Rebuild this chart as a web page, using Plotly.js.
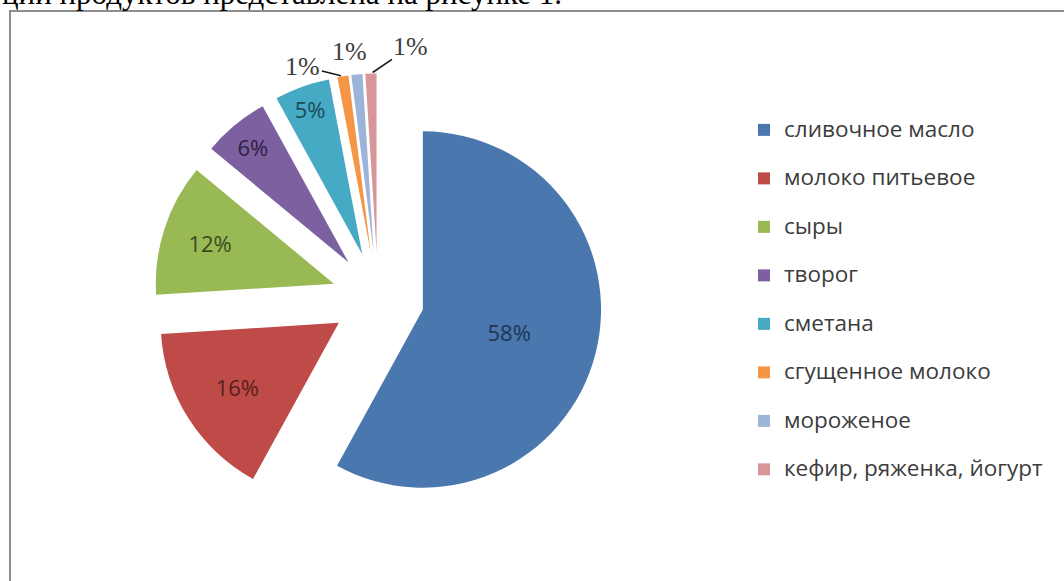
<!DOCTYPE html>
<html>
<head>
<meta charset="utf-8">
<script src="https://cdn.plot.ly/plotly-3.0.1.min.js"></script>
<style>
  html, body { margin: 0; padding: 0; background: #ffffff; }
  #chart { width: 1064px; height: 581px; }
</style>
</head>
<body>
<div id="chart"></div>
<script>
// ---- data ----
const categories = [
  "сливочное масло",
  "молоко питьевое",
  "сыры",
  "творог",
  "сметана",
  "сгущенное молоко",
  "мороженое",
  "кефир, ряженка, йогурт"
];
const shares = [58, 16, 12, 6, 5, 1, 1, 1];
const sliceColors = ["#4A78AE", "#BE4B48", "#98B954", "#7D60A0", "#46AAC5", "#F59646", "#9DB4DA", "#D9969A"];
const labelColors = ["#1E3557", "#5A1D1C", "#3A4A1E", "#2F2142", "#1C4A57", "#404040", "#404040", "#404040"];
// slices whose percentage is drawn inside; the rest get leader-line callouts
const labelPositions = ["inside", "inside", "inside", "inside", "inside", "none", "none", "none"];
const headerText = "ции продуктов представлена на рисунке 1.";

const W = 1064, H = 581;
const px = v => v / W;
const py = v => 1 - v / H;

// pie box (pixels) and explosion
const box = { x0: 153.5, x1: 602.5, y0: 73.5, y1: 522.5 };
const PULL = 0.26;

const trace = {
  type: "pie",
  labels: categories.map(c => "<span style='font-size:22.5px'>" + c + "</span><br> "),
  values: shares,
  sort: false,
  direction: "clockwise",
  rotation: 0,
  pull: shares.map(() => PULL),
  marker: { colors: sliceColors, line: { width: 0 } },
  textinfo: "percent",
  texttemplate: "%{percent:.0%}",
  textposition: labelPositions,
  insidetextorientation: "horizontal",
  textfont: { family: "Open Sans, sans-serif", size: 22, color: labelColors },
  domain: { x: [px(box.x0), px(box.x1)], y: [py(box.y1), py(box.y0)] },
  hoverinfo: "percent"
};

// callouts for the small slices: anchor on the outer arc at each slice's mid angle
const total = shares.reduce((a, b) => a + b, 0);
const cx = (box.x0 + box.x1) / 2, cy = (box.y0 + box.y1) / 2;
const R = Math.min(box.x1 - box.x0, box.y1 - box.y0) / (2 * (1 + PULL));
const calloutOffsets = { 5: [-40, -10, true], 6: [-7, -23, false], 7: [40, -27, true] };
const callouts = [];
let cum = 0;
shares.forEach((v, i) => {
  const mid = (cum + v / 2) / total * 2 * Math.PI;
  cum += v;
  if (labelPositions[i] !== "none") return;
  const d = R * (1 + PULL);
  const ax0 = cx + d * Math.sin(mid), ay0 = cy - d * Math.cos(mid);
  const o = calloutOffsets[i];
  const pct = Math.round(v / total * 100) + "%";
  const a = {
    text: pct, xref: "paper", yref: "paper", x: px(ax0), y: py(ay0),
    xanchor: "center", yanchor: "middle",
    font: { family: "Liberation Serif, Times New Roman, serif", size: 26, color: "#404040" }
  };
  if (o[2]) {
    Object.assign(a, { showarrow: true, arrowhead: 0, arrowwidth: 1.6, arrowcolor: "#1a1a1a", ax: o[0], ay: o[1], standoff: 2 });
  } else {
    Object.assign(a, { showarrow: false, xshift: o[0], yshift: -o[1] });
  }
  callouts.push(a);
});

const layout = {
  width: W,
  height: H,
  margin: { l: 0, r: 0, t: 0, b: 0, autoexpand: false },
  paper_bgcolor: "#ffffff",
  plot_bgcolor: "#ffffff",
  showlegend: true,
  legend: {
    x: px(744), xanchor: "left",
    y: py(112), yanchor: "top",
    valign: "top",
    font: { family: "Open Sans, sans-serif", size: 17.5, color: "#3C3C3C" },
    bgcolor: "rgba(0,0,0,0)",
    borderwidth: 0,
    tracegroupgap: 0
  },
  shapes: [{
    type: "rect", xref: "paper", yref: "paper",
    x0: px(10), x1: px(1075), y0: py(600), y1: py(11),
    line: { color: "#8E8E8E", width: 2 },
    fillcolor: "rgba(0,0,0,0)", layer: "below"
  }],
  annotations: [{
    text: headerText, xref: "paper", yref: "paper",
    x: 0, xanchor: "left", y: py(13), yanchor: "bottom",
    showarrow: false,
    font: { family: "Liberation Serif, Times New Roman, serif", size: 31, color: "#000000" }
  }].concat(callouts)
};

Plotly.newPlot("chart", [trace], layout, { displayModeBar: false, staticPlot: true });
</script>
</body>
</html>
